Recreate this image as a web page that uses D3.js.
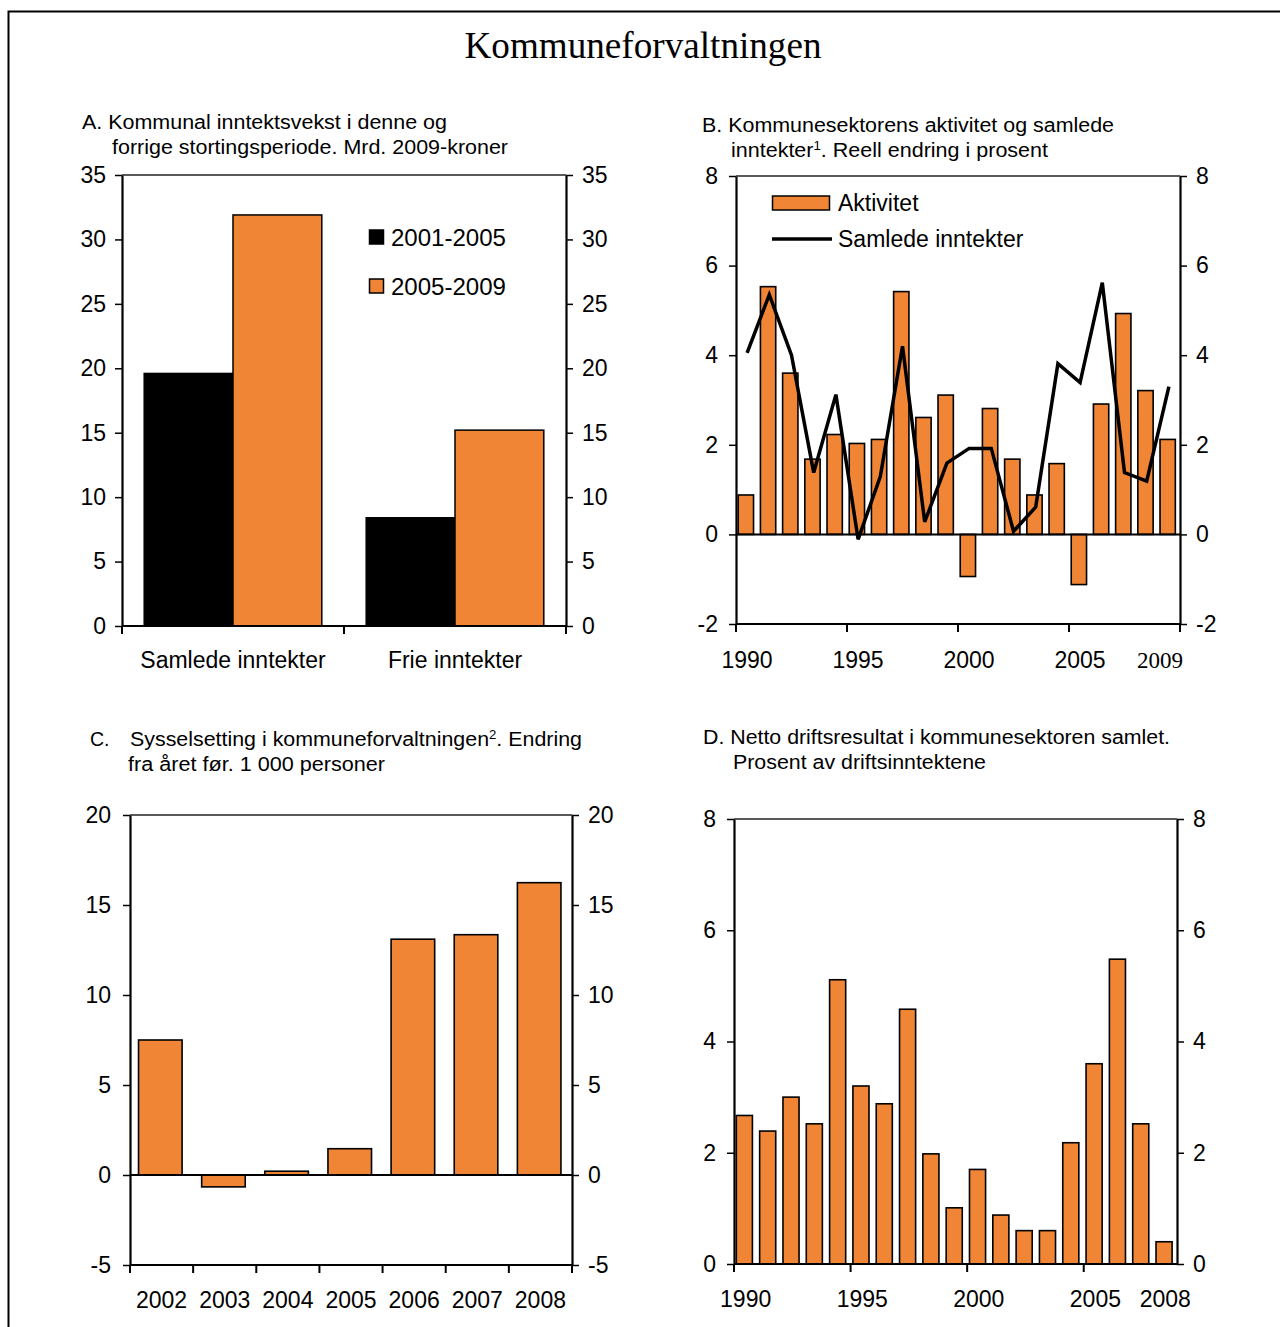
<!DOCTYPE html>
<html><head><meta charset="utf-8">
<script src="https://cdn.jsdelivr.net/npm/d3@7/dist/d3.min.js"></script>
<style>
body{margin:0;background:#fff}
svg{display:block}
text{font-family:"Liberation Sans",Arial,sans-serif;fill:#000}
</style>
</head><body>
<svg id="chart" width="1280" height="1327"></svg>
<script>
// ---------------- DATA ----------------
const mainTitle = "Kommuneforvaltningen";

// Panel A
const aCategories = ["Samlede inntekter", "Frie inntekter"];
const aSeries = ["2001-2005", "2005-2009"];
const a2001_2005 = [19.6, 8.4];
const a2005_2009 = [31.9, 15.2];
const aTicks = [0, 5, 10, 15, 20, 25, 30, 35];

// Panel B
const bYears = [1990,1991,1992,1993,1994,1995,1996,1997,1998,1999,2000,2001,2002,2003,2004,2005,2006,2007,2008,2009];
const bAktivitet = [0.88,5.53,3.60,1.68,2.23,2.03,2.12,5.42,2.61,3.11,-0.94,2.81,1.68,0.88,1.58,-1.12,2.91,4.93,3.21,2.12];
const bSamlede = [4.05,5.35,4.00,1.38,3.12,-0.11,1.29,4.20,0.28,1.59,1.92,1.92,0.07,0.61,3.81,3.39,5.62,1.38,1.19,3.30];
const bTicks = [-2, 0, 2, 4, 6, 8];
const bXLabels = [1990, 1995, 2000, 2005, 2009];
const bXTicks = [1990, 1995, 2000, 2005];

// Panel C
const cYears = [2002,2003,2004,2005,2006,2007,2008];
const cValues = [7.5,-0.66,0.21,1.46,13.1,13.35,16.24];
const cTicks = [-5, 0, 5, 10, 15, 20];

// Panel D
const dYears = [1990,1991,1992,1993,1994,1995,1996,1997,1998,1999,2000,2001,2002,2003,2004,2005,2006,2007,2008];
const dValues = [2.67,2.39,3.00,2.52,5.11,3.20,2.88,4.58,1.98,1.01,1.70,0.88,0.60,0.60,2.18,3.60,5.48,2.52,0.40];
const dTicks = [0, 2, 4, 6, 8];
const dXLabels = [1990, 1995, 2000, 2005, 2008];
const dXTicks = [1990, 1995, 2000, 2005];

// ---------------- STYLE ----------------
const ORANGE = "#f08535";
const FS = 23;
const svg = d3.select("#chart");

svg.append("rect").attr("x", 8.5).attr("y", 11.5).attr("width", 1300).attr("height", 1400)
  .attr("fill", "none").attr("stroke", "#000").attr("stroke-width", 2);

svg.append("text").attr("x", 643).attr("y", 58).attr("text-anchor", "middle")
  .style("font-family", "'Liberation Serif','Times New Roman',serif").style("font-size", "37px")
  .attr("textLength", 357).attr("lengthAdjust", "spacingAndGlyphs").text(mainTitle);

function fmt(d){ return String(d); }

function yAxes(g, y, left, right, ticks, padL) {
  const gl = g.append("g").attr("transform", `translate(${left},0)`)
    .call(d3.axisLeft(y).tickValues(ticks).tickSize(7).tickPadding(padL).tickSizeOuter(0).tickFormat(fmt));
  const gr = g.append("g").attr("transform", `translate(${right},0)`)
    .call(d3.axisRight(y).tickValues(ticks).tickSize(7).tickPadding(9).tickSizeOuter(0).tickFormat(fmt));
  [gl, gr].forEach(a => {
    a.select(".domain").attr("stroke", "#000").attr("stroke-width", 2.2);
    a.selectAll(".tick line").attr("stroke", "#000").attr("stroke-width", 1.5);
    a.selectAll(".tick text").style("font-size", FS + "px").attr("fill", "#000")
      .style("font-family", "'Liberation Sans',Arial,sans-serif");
  });
  g.append("line").attr("x1", left).attr("x2", right)
    .attr("y1", y(ticks[ticks.length - 1])).attr("y2", y(ticks[ticks.length - 1]))
    .attr("stroke", "#222").attr("stroke-width", 1.6);
}

function hline(g, x1, x2, yv, w) {
  g.append("line").attr("x1", x1).attr("x2", x2).attr("y1", yv).attr("y2", yv)
    .attr("stroke", "#000").attr("stroke-width", w || 2);
}
function vtick(g, xv, yv, len) {
  g.append("line").attr("x1", xv).attr("x2", xv).attr("y1", yv).attr("y2", yv + len)
    .attr("stroke", "#000").attr("stroke-width", 2);
}
function titleLines(g, lines) {
  lines.forEach(l => {
    const t = g.append("text").attr("x", l.x).attr("y", l.y).style("font-size", "19.5px");
    if (l.w) t.attr("textLength", l.w).attr("lengthAdjust", "spacingAndGlyphs");
    l.parts.forEach(p => {
      const ts = t.append("tspan").text(p.t);
      if (p.sup) ts.style("font-size", "12px").attr("dy", -7);
      else if (p.after) ts.attr("dy", 7);
    });
  });
}

// ---------------- PANEL A ----------------
{
  const g = svg.append("g");
  const L = 122, R = 566, T = 175, B = 626;
  const y = d3.scaleLinear().domain([0, 35]).range([B, T]);
  const x0 = d3.scaleBand().domain(aCategories).range([L, R]).paddingInner(0.2).paddingOuter(0.1);
  const x1 = d3.scaleBand().domain(aSeries).range([0, x0.bandwidth()]);
  const colors = {"2001-2005": "#000", "2005-2009": ORANGE};
  const rows = aCategories.map((c, i) => ({c, vals: [a2001_2005[i], a2005_2009[i]]}));
  rows.forEach(r => {
    r.vals.forEach((v, j) => {
      const s = aSeries[j];
      g.append("rect").attr("x", x0(r.c) + x1(s)).attr("width", x1.bandwidth())
        .attr("y", y(v)).attr("height", y(0) - y(v))
        .attr("fill", colors[s]).attr("stroke", "#000").attr("stroke-width", 1.5);
    });
  });
  yAxes(g, y, L, R, aTicks, 9);
  hline(g, L, R, B, 2);
  const step = x0.step();
  [L, L + step, R].forEach(xv => vtick(g, xv, B, 8));
  aCategories.forEach(c => {
    g.append("text").attr("x", x0(c) + x0.bandwidth() / 2).attr("y", 668)
      .attr("text-anchor", "middle").style("font-size", FS + "px").text(c);
  });
  aSeries.forEach((s, i) => {
    const ly = 230 + i * 49;
    g.append("rect").attr("x", 369.5).attr("y", ly).attr("width", 14).attr("height", 14)
      .attr("fill", colors[s]).attr("stroke", "#000").attr("stroke-width", 1.5);
    g.append("text").attr("x", 391).attr("y", ly + 16).style("font-size", FS + "px")
      .attr("textLength", 115).attr("lengthAdjust", "spacingAndGlyphs").text(s);
  });
  titleLines(g, [
    {x: 82, y: 129, w: 365, parts: [{t: "A. Kommunal inntektsvekst i denne og"}]},
    {x: 112, y: 154, w: 396, parts: [{t: "forrige stortingsperiode. Mrd. 2009-kroner"}]}
  ]);
}

// ---------------- PANEL B ----------------
{
  const g = svg.append("g");
  const L = 736, R = 1180, T = 176, B = 624;
  const y = d3.scaleLinear().domain([-2, 8]).range([B, T]);
  const x = d3.scaleBand().domain(bYears).range([L, R]).padding(0);
  const bw = x.bandwidth();
  bYears.forEach((yr, i) => {
    const v = bAktivitet[i];
    g.append("rect").attr("x", x(yr) + bw * 0.1).attr("width", bw * 0.69)
      .attr("y", y(Math.max(0, v))).attr("height", Math.abs(y(v) - y(0)))
      .attr("fill", ORANGE).attr("stroke", "#000").attr("stroke-width", 1.6);
  });
  hline(g, L, R, y(0), 2);
  const line = d3.line().x((d, i) => x(bYears[i]) + bw / 2).y(d => y(d));
  g.append("path").datum(bSamlede).attr("d", line).attr("fill", "none")
    .attr("stroke", "#000").attr("stroke-width", 3.5).attr("stroke-linejoin", "miter");
  yAxes(g, y, L, R, bTicks, 11);
  hline(g, L, R, B, 2);
  bXTicks.forEach(yr => vtick(g, x(yr), B, 8));
  vtick(g, R, B, 8);
  bXLabels.forEach(yr => {
    const t = g.append("text").attr("x", x(yr) + bw / 2).attr("y", 668)
      .attr("text-anchor", "middle").style("font-size", FS + "px").text(yr);
    if (yr === 2009) t.style("font-family", "'Liberation Serif','Times New Roman',serif").attr("x", x(yr) + bw / 2 - 9);
  });
  g.append("rect").attr("x", 772.5).attr("y", 196).attr("width", 57).attr("height", 14)
    .attr("fill", ORANGE).attr("stroke", "#000").attr("stroke-width", 1.5);
  g.append("text").attr("x", 838).attr("y", 211).style("font-size", FS + "px").text("Aktivitet");
  g.append("line").attr("x1", 772).attr("x2", 832).attr("y1", 239).attr("y2", 239)
    .attr("stroke", "#000").attr("stroke-width", 3.5);
  g.append("text").attr("x", 838).attr("y", 247).style("font-size", FS + "px").text("Samlede inntekter");
  titleLines(g, [
    {x: 702, y: 132, w: 412, parts: [{t: "B. Kommunesektorens aktivitet og samlede"}]},
    {x: 731, y: 157, w: 317, parts: [{t: "inntekter"}, {t: "1", sup: true}, {t: ". Reell endring i prosent", after: true}]}
  ]);
}

// ---------------- PANEL C ----------------
{
  const g = svg.append("g");
  const L = 130, R = 572, T = 815, B = 1265;
  const y = d3.scaleLinear().domain([-5, 20]).range([B, T]);
  const x = d3.scaleBand().domain(cYears).range([L, R]).padding(0);
  const bw = x.bandwidth();
  cYears.forEach((yr, i) => {
    const v = cValues[i];
    g.append("rect").attr("x", x(yr) + bw * 0.135).attr("width", bw * 0.69)
      .attr("y", y(Math.max(0, v))).attr("height", Math.abs(y(v) - y(0)))
      .attr("fill", ORANGE).attr("stroke", "#000").attr("stroke-width", 1.6);
  });
  hline(g, L, R, y(0), 2);
  yAxes(g, y, L, R, cTicks, 12);
  hline(g, L, R, B, 2);
  cYears.forEach(yr => vtick(g, x(yr), B, 8));
  vtick(g, R, B, 8);
  cYears.forEach(yr => {
    g.append("text").attr("x", x(yr) + bw / 2).attr("y", 1308)
      .attr("text-anchor", "middle").style("font-size", FS + "px").text(yr);
  });
  titleLines(g, [
    {x: 90, y: 746, parts: [{t: "C."}]},
    {x: 130, y: 746, w: 452, parts: [{t: "Sysselsetting i kommuneforvaltningen"}, {t: "2", sup: true}, {t: ". Endring", after: true}]},
    {x: 128, y: 771, w: 257, parts: [{t: "fra året før. 1 000 personer"}]}
  ]);
}

// ---------------- PANEL D ----------------
{
  const g = svg.append("g");
  const L = 734, R = 1177, T = 819, B = 1264;
  const y = d3.scaleLinear().domain([0, 8]).range([B, T]);
  const x = d3.scaleBand().domain(dYears).range([L, R]).padding(0);
  const bw = x.bandwidth();
  dYears.forEach((yr, i) => {
    const v = dValues[i];
    g.append("rect").attr("x", x(yr) + bw * 0.1).attr("width", bw * 0.69)
      .attr("y", y(v)).attr("height", y(0) - y(v))
      .attr("fill", ORANGE).attr("stroke", "#000").attr("stroke-width", 1.6);
  });
  yAxes(g, y, L, R, dTicks, 11);
  hline(g, L, R, B, 2);
  dXTicks.forEach(yr => vtick(g, x(yr), B, 8));
  dXLabels.forEach(yr => {
    g.append("text").attr("x", x(yr) + bw / 2).attr("y", 1307)
      .attr("text-anchor", "middle").style("font-size", FS + "px").text(yr);
  });
  titleLines(g, [
    {x: 703, y: 744, w: 467, parts: [{t: "D. Netto driftsresultat i kommunesektoren samlet."}]},
    {x: 733, y: 769, w: 253, parts: [{t: "Prosent av driftsinntektene"}]}
  ]);
}
</script>
</body></html>
